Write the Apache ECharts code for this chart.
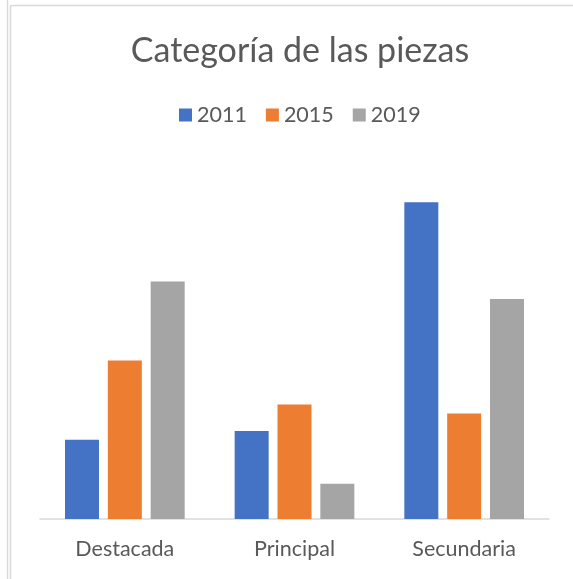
<!DOCTYPE html>
<html style="height: 100%">
<head>
    <meta charset="utf-8">
    <title>Categoría de las piezas</title>
    <script src="https://cdn.jsdelivr.net/npm/echarts@6/dist/echarts.min.js"></script>
</head>
<body style="height: 100%; margin: 0; background: #fff">
<div id="container" style="width: 573px; height: 579px"></div>
<script type="text/javascript">
    var categories = ['Destacada', 'Principal', 'Secundaria'];
    var years = ['2011', '2015', '2019'];
    var data2011 = [9, 10, 36];
    var data2015 = [18, 13, 12];
    var data2019 = [27, 4, 25];

    var colors = ['#4472c4', '#ed7d31', '#a5a5a5'];
    var font = 'Lato, "Open Sans", sans-serif';

    var myChart = echarts.init(document.getElementById('container'));

    var option = {
        backgroundColor: '#fff',
        color: colors,
        textStyle: { fontFamily: font },
        title: {
            text: 'Categoría de las piezas',
            left: 295,
            textAlign: 'center',
            top: 29,
            textStyle: {
                fontFamily: font,
                fontSize: 34,
                fontWeight: 'normal',
                color: '#595959'
            }
        },
        legend: {
            data: years,
            left: 174,
            top: 99,
            itemWidth: 13,
            itemHeight: 13,
            itemGap: 19,
            icon: 'rect',
            textStyle: { fontSize: 21.5, color: '#595959', fontFamily: font }
        },
        graphic: [
            { type: 'line', shape: { x1: 7.5, y1: 0, x2: 7.5, y2: 579 }, style: { stroke: '#d9d9d9', lineWidth: 1.5 } },
            { type: 'line', shape: { x1: 10.5, y1: 5.5, x2: 10.5, y2: 579 }, style: { stroke: '#d9d9d9', lineWidth: 1.5 } },
            { type: 'line', shape: { x1: 10.5, y1: 5.5, x2: 573, y2: 5.5 }, style: { stroke: '#d9d9d9', lineWidth: 1.5 } }
        ],
        grid: {
            left: 40,
            right: 24,
            top: 167,
            bottom: 60
        },
        xAxis: {
            type: 'category',
            data: categories,
            axisTick: { show: false },
            axisLine: { lineStyle: { color: '#d9d9d9', width: 1.5 } },
            axisLabel: { fontSize: 21.5, color: '#595959', margin: 19, fontFamily: font }
        },
        yAxis: {
            type: 'value',
            min: 0,
            max: 40,
            show: false,
            splitLine: { show: false }
        },
        series: [
            { name: '2011', type: 'bar', data: data2011, barWidth: 34, barGap: '26%' },
            { name: '2015', type: 'bar', data: data2015, barWidth: 34, barGap: '26%' },
            { name: '2019', type: 'bar', data: data2019, barWidth: 34, barGap: '26%' }
        ],
        animation: false
    };

    myChart.setOption(option);
</script>
</body>
</html>
